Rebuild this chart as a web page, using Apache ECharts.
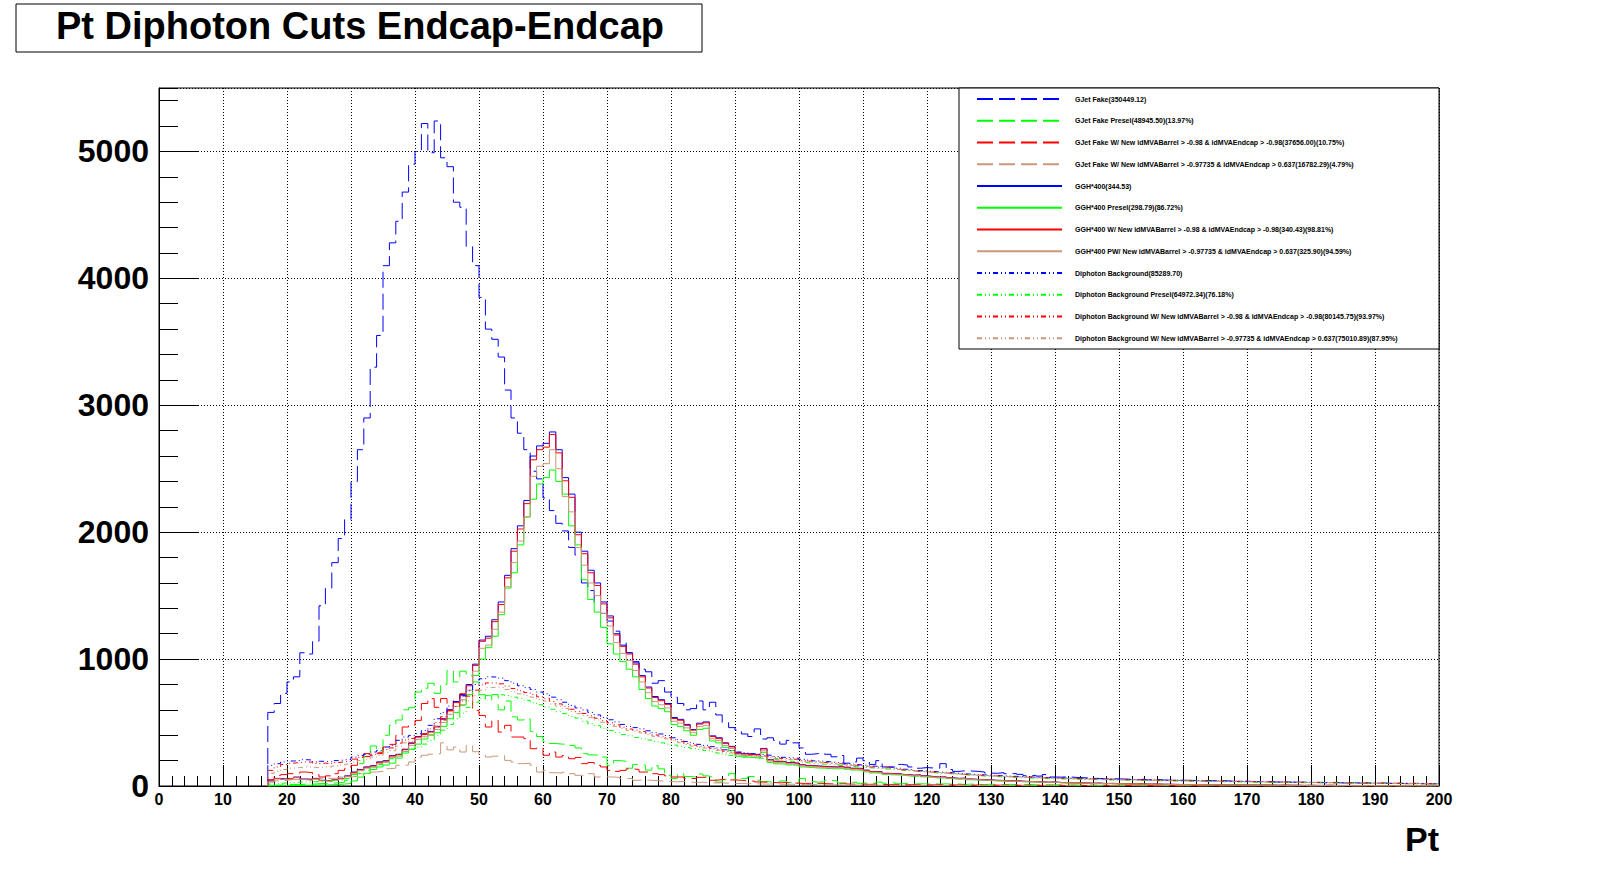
<!DOCTYPE html>
<html>
<head>
<meta charset="utf-8">
<title>Pt Diphoton Cuts Endcap-Endcap</title>
<script src="https://cdn.jsdelivr.net/npm/echarts@6/dist/echarts.min.js"></script>
<style>
html, body { margin: 0; padding: 0; background: #fff; }
#container { width: 1598px; height: 874px; }
</style>
</head>
<body>
<div id="container"></div>
<script>
// bins are 1 GeV wide, first bin starts at 17 GeV (17..199)
var binStart = 17;

var seriesNames = [
	'GJet Fake(350449.12)',
	'GJet Fake Presel(48945.50)(13.97%)',
	'GJet Fake W/ New idMVABarrel > -0.98 & idMVAEndcap > -0.98(37656.00)(10.75%)',
	'GJet Fake W/ New idMVABarrel > -0.97735 & idMVAEndcap > 0.637(16782.29)(4.79%)',
	'GGH*400(344.53)',
	'GGH*400 Presel(298.79)(86.72%)',
	'GGH*400 W/ New idMVABarrel > -0.98 & idMVAEndcap > -0.98(340.43)(98.81%)',
	'GGH*400 PW/ New idMVABarrel > -0.97735 & idMVAEndcap > 0.637(325.90)(94.59%)',
	'Diphoton Background(85289.70)',
	'Diphoton Background Presel(64972.34)(76.18%)',
	'Diphoton Background W/ New idMVABarrel > -0.98 & idMVAEndcap > -0.98(80145.75)(93.97%)',
	'Diphoton Background W/ New idMVABarrel > -0.97735 & idMVAEndcap > 0.637(75010.89)(87.95%)'
];

var gjetFake = [
	580, 650, 730,
	820, 860, 1050, 1040, 1140, 1420, 1560, 1760, 1950, 2100,
	2400, 2650, 2900, 3300, 3550, 4100, 4280, 4450, 4680, 4900,
	5000, 5220, 4990, 5240, 4950, 4880, 4600, 4560, 4250, 4100,
	3850, 3600, 3520, 3380, 3120, 2900, 2780, 2650, 2480, 2420,
	2270, 2170, 2070, 2010, 1880, 1820, 1600, 1540, 1450, 1360,
	1300, 1220, 1130, 1050, 980, 920, 900, 810, 830, 740,
	700, 650, 600, 610, 670, 600, 660, 560, 500, 460,
	440, 410, 390, 450, 370, 380, 360, 330, 360, 340,
	300, 250, 255, 260, 250, 230, 240, 180, 190, 220,
	200, 170, 200, 150, 150, 170, 165, 150, 140, 145,
	142, 140, 176, 130, 115, 120, 118, 115, 110, 102,
	100, 105, 97, 98, 92, 81, 84, 78, 90, 71,
	70, 72, 69, 66, 64, 67, 60, 55, 57, 56,
	55, 52, 50, 54, 48, 50, 47, 46, 44, 45,
	45, 43, 46, 40, 42, 38, 41, 37, 36, 38,
	35, 33, 36, 32, 30, 31, 29, 30, 28, 27,
	28, 26, 25, 27, 24, 23, 25, 22, 21, 22,
	20, 21, 19, 20, 18, 19, 17, 18, 16, 17
];

var gjetPresel = [
	5, 8, 10,
	12, 10, 15, 14, 18, 20, 22, 25, 30, 45,
	90, 176, 230, 315, 268, 400, 478, 520, 600, 617,
	740, 770, 810, 730, 800, 910, 820, 905, 870, 820,
	720, 680, 720, 600, 670, 545, 520, 530, 430, 390,
	350, 335, 330, 330, 320, 300, 255, 245, 240, 228,
	160, 200, 195, 140, 170, 165, 125, 160, 135, 85,
	60, 97, 75, 70, 95, 80, 72, 31, 50, 97,
	50, 60, 75, 45, 35, 30, 31, 40, 28, 25,
	60, 35, 30, 32, 45, 40, 25, 28, 30, 22,
	25, 20, 30, 22, 25, 18, 20, 15, 18, 16,
	18, 15, 17, 14, 16, 12, 15, 13, 11, 14,
	12, 10, 13, 11, 9, 12, 10, 8, 11, 9,
	10, 8, 9, 7, 8, 9, 6, 8, 7, 6,
	7, 6, 8, 5, 6, 7, 5, 6, 4, 5,
	5, 6, 4, 5, 3, 5, 4, 4, 3, 5,
	4, 3, 4, 3, 4, 2, 3, 4, 3, 2,
	3, 2, 3, 2, 3, 2, 2, 3, 2, 2,
	2, 1, 2, 2, 1, 2, 1, 2, 1, 1
];

var gjetCutA = [
	50, 84, 90,
	97, 100, 110, 105, 90, 71, 80, 97, 123, 137,
	163, 228, 255, 240, 255, 307, 328, 399, 465, 478,
	517, 650, 688, 620, 690, 600, 675, 727, 740, 596,
	556, 465, 517, 425, 478, 386, 386, 373, 294, 300,
	242, 268, 228, 240, 215, 225, 176, 185, 163, 150,
	123, 115, 123, 135, 130, 110, 110, 97, 90, 80,
	71, 71, 60, 58, 68, 70, 45, 50, 55, 48,
	45, 40, 38, 32, 30, 28, 25, 27, 24, 22,
	20, 21, 18, 19, 17, 16, 18, 15, 14, 15,
	13, 14, 12, 12, 11, 12, 10, 11, 9, 10,
	9, 10, 8, 9, 8, 8, 7, 8, 6, 7,
	7, 6, 6, 7, 5, 6, 5, 5, 4, 5,
	5, 4, 5, 4, 4, 3, 4, 4, 3, 3,
	3, 4, 3, 3, 2, 3, 3, 2, 3, 2,
	2, 3, 2, 2, 2, 1, 2, 2, 1, 2,
	1, 2, 1, 2, 1, 1, 2, 1, 1, 1,
	1, 1, 1, 1, 1, 1, 0, 1, 1, 0,
	1, 0, 1, 0, 1, 0, 0, 1, 0, 0
];

var gjetCutB = [
	31, 40, 45,
	50, 50, 55, 58, 58, 58, 60, 62, 71, 71,
	75, 97, 100, 110, 115, 137, 140, 163, 165, 189,
	228, 242, 250, 255, 340, 285, 307, 268, 320, 270,
	242, 228, 235, 240, 202, 189, 176, 180, 163, 110,
	123, 105, 102, 108, 97, 84, 86, 97, 71, 72,
	71, 68, 58, 60, 45, 47, 45, 42, 38, 35,
	33, 35, 30, 28, 30, 26, 24, 25, 22, 20,
	20, 18, 19, 16, 15, 16, 14, 13, 14, 12,
	11, 12, 10, 10, 9, 10, 8, 9, 8, 7,
	7, 8, 6, 7, 6, 6, 5, 6, 5, 5,
	5, 4, 5, 4, 4, 4, 3, 4, 3, 3,
	3, 3, 3, 2, 3, 2, 2, 3, 2, 2,
	2, 2, 2, 1, 2, 2, 1, 2, 1, 1,
	1, 2, 1, 1, 1, 1, 1, 1, 1, 1,
	1, 1, 0, 1, 1, 0, 1, 1, 0, 1,
	0, 1, 0, 0, 1, 0, 0, 1, 0, 0,
	0, 0, 1, 0, 0, 0, 0, 0, 1, 0,
	0, 0, 0, 0, 0, 0, 1, 0, 0, 0
];

var gghAll = [
	40, 60, 55,
	60, 70, 55, 50, 60, 45, 40, 50, 60, 80,
	110, 130, 150, 160, 190, 200, 240, 250, 290, 340,
	390, 410, 430, 470, 530, 600, 665, 720, 800, 960,
	1150, 1180, 1310, 1450, 1660, 1870, 2050, 2250, 2600, 2680,
	2700, 2790, 2650, 2430, 2300, 2000, 1850, 1700, 1600, 1450,
	1340, 1200, 1110, 1050, 970, 870, 780, 705, 680, 650,
	540, 525, 485, 445, 495, 505, 395, 380, 340, 312,
	262, 255, 250, 248, 296, 208, 195, 192, 185, 180,
	168, 162, 158, 155, 152, 150, 154, 148, 140, 138,
	125, 115, 112, 100, 98, 96, 90, 85, 88, 80,
	75, 70, 72, 65, 60, 62, 55, 52, 50, 48,
	45, 44, 40, 42, 38, 36, 35, 33, 30, 32,
	28, 27, 26, 25, 24, 22, 23, 20, 21, 19,
	18, 17, 18, 16, 15, 16, 14, 14, 13, 12,
	12, 11, 12, 10, 10, 9, 10, 9, 8, 8,
	8, 7, 8, 7, 6, 7, 6, 6, 5, 6,
	5, 5, 6, 5, 4, 5, 4, 4, 4, 4,
	4, 3, 4, 3, 3, 4, 3, 3, 3, 3
];

var gghPresel = [
	0, 2, 3,
	4, 5, 5, 6, 8, 8, 10, 12, 15, 20,
	40, 70, 100, 130, 150, 165, 180, 220, 260, 290,
	330, 370, 400, 420, 470, 530, 580, 640, 720, 870,
	1000, 1090, 1180, 1350, 1560, 1680, 1900, 2120, 2260, 2380,
	2430, 2490, 2400, 2300, 2050, 1900, 1625, 1470, 1370, 1250,
	1120, 1040, 980, 920, 860, 760, 690, 630, 610, 585,
	485, 470, 435, 400, 445, 455, 355, 340, 305, 280,
	235, 228, 224, 220, 265, 186, 175, 172, 166, 162,
	150, 146, 142, 140, 137, 135, 138, 132, 126, 124,
	112, 103, 100, 90, 88, 86, 81, 76, 79, 72,
	67, 63, 64, 58, 54, 56, 49, 47, 45, 43,
	40, 39, 36, 38, 34, 32, 31, 30, 27, 29,
	25, 24, 23, 22, 21, 20, 20, 18, 19, 17,
	16, 15, 16, 14, 13, 14, 12, 12, 11, 11,
	10, 10, 10, 9, 9, 8, 9, 8, 7, 7,
	7, 6, 7, 6, 5, 6, 5, 5, 4, 5,
	4, 4, 5, 4, 3, 4, 3, 3, 3, 3,
	3, 2, 3, 2, 2, 3, 2, 2, 2, 2
];

var gghCutA = [
	38, 58, 52,
	58, 68, 52, 48, 57, 43, 38, 48, 58, 77,
	107, 127, 147, 157, 187, 196, 236, 246, 286, 335,
	385, 405, 425, 465, 525, 592, 657, 712, 790, 950,
	1140, 1165, 1295, 1430, 1640, 1850, 2025, 2225, 2570, 2650,
	2670, 2770, 2625, 2405, 2275, 1980, 1830, 1680, 1580, 1435,
	1325, 1190, 1100, 1040, 960, 860, 772, 697, 672, 643,
	532, 518, 478, 440, 488, 498, 390, 375, 336, 308,
	258, 252, 247, 244, 292, 205, 192, 190, 182, 178,
	166, 160, 156, 153, 150, 148, 152, 146, 138, 136,
	123, 113, 110, 99, 97, 94, 89, 84, 87, 79,
	74, 69, 71, 64, 59, 61, 54, 51, 49, 47,
	44, 43, 39, 41, 37, 35, 34, 32, 29, 31,
	27, 26, 25, 24, 23, 21, 22, 19, 20, 18,
	17, 16, 17, 15, 14, 15, 13, 13, 12, 11,
	11, 10, 11, 9, 9, 8, 9, 8, 7, 7,
	7, 6, 7, 6, 5, 6, 5, 5, 4, 5,
	4, 4, 5, 4, 3, 4, 3, 3, 3, 3,
	3, 2, 3, 2, 2, 3, 2, 2, 2, 2
];

var gghCutB = [
	35, 55, 50,
	55, 64, 50, 45, 54, 41, 36, 46, 55, 73,
	100, 120, 140, 148, 178, 186, 225, 235, 272, 320,
	368, 388, 405, 445, 500, 565, 628, 680, 755, 905,
	1085, 1110, 1235, 1370, 1570, 1760, 1930, 2120, 2440, 2520,
	2540, 2650, 2500, 2280, 2160, 1880, 1740, 1600, 1500, 1360,
	1260, 1130, 1045, 990, 910, 820, 735, 665, 640, 615,
	510, 495, 458, 420, 468, 476, 372, 358, 320, 295,
	246, 240, 236, 233, 278, 196, 184, 181, 174, 170,
	158, 152, 149, 146, 143, 141, 145, 139, 132, 130,
	117, 108, 105, 94, 92, 90, 85, 80, 82, 75,
	70, 66, 68, 61, 56, 58, 52, 49, 47, 45,
	42, 41, 37, 39, 35, 34, 33, 31, 28, 30,
	26, 25, 24, 23, 22, 20, 21, 18, 19, 17,
	16, 15, 16, 14, 13, 14, 13, 12, 11, 11,
	10, 10, 10, 9, 9, 8, 9, 8, 7, 7,
	7, 6, 7, 6, 5, 6, 5, 5, 4, 5,
	4, 4, 5, 4, 3, 4, 3, 3, 3, 3,
	3, 2, 3, 2, 2, 3, 2, 2, 2, 2
];

var diphoAll = [
	163, 176, 190,
	197, 200, 207, 205, 189, 195, 190, 200, 205, 210,
	228, 242, 250, 268, 281, 307, 320, 360, 386, 399,
	412, 438, 478, 530, 580, 630, 665, 710, 750, 800,
	845, 860, 858, 850, 830, 810, 790, 775, 760, 740,
	727, 700, 680, 660, 635, 615, 600, 580, 560, 540,
	522, 505, 485, 470, 460, 450, 435, 420, 410, 398,
	380, 365, 350, 336, 328, 320, 310, 300, 285, 278,
	268, 262, 255, 250, 245, 240, 232, 226, 222, 218,
	210, 204, 198, 194, 190, 185, 180, 174, 170, 165,
	162, 156, 152, 150, 146, 140, 132, 128, 122, 118,
	115, 110, 108, 104, 100, 96, 93, 90, 88, 85,
	83, 80, 78, 76, 74, 72, 70, 68, 67, 65,
	64, 62, 62, 60, 59, 58, 57, 55, 54, 53,
	52, 51, 50, 50, 49, 48, 47, 46, 45, 45,
	44, 43, 42, 42, 41, 40, 39, 38, 37, 37,
	36, 35, 34, 34, 33, 32, 32, 31, 30, 30,
	29, 29, 28, 28, 27, 26, 26, 25, 25, 24,
	24, 23, 23, 22, 22, 21, 21, 20, 20, 19
];

var diphoPresel = [
	15, 20, 25,
	28, 30, 32, 33, 35, 38, 40, 45, 50, 58,
	75, 100, 125, 150, 170, 195, 215, 245, 270, 290,
	305, 330, 360, 400, 440, 485, 530, 575, 620, 660,
	690, 712, 720, 718, 712, 700, 690, 675, 655, 640,
	622, 605, 585, 570, 550, 535, 510, 490, 475, 455,
	438, 422, 405, 395, 383, 373, 362, 350, 340, 330,
	322, 312, 303, 295, 288, 280, 270, 260, 250, 242,
	236, 230, 225, 220, 215, 210, 205, 199, 194, 190,
	185, 180, 176, 172, 168, 164, 160, 156, 152, 148,
	144, 140, 136, 133, 130, 126, 122, 118, 114, 110,
	106, 102, 99, 96, 92, 88, 85, 82, 79, 76,
	74, 71, 69, 67, 65, 63, 61, 60, 58, 57,
	56, 54, 53, 52, 51, 50, 49, 48, 47, 46,
	45, 44, 43, 43, 42, 41, 40, 39, 39, 38,
	37, 36, 36, 35, 34, 34, 33, 32, 32, 31,
	30, 30, 29, 29, 28, 27, 27, 26, 26, 25,
	25, 24, 24, 23, 23, 22, 22, 21, 21, 20,
	20, 19, 19, 19, 18, 18, 17, 17, 17, 16
];

var diphoCutA = [
	123, 150, 170,
	180, 185, 190, 188, 176, 180, 176, 185, 190, 195,
	212, 225, 233, 250, 262, 287, 300, 338, 362, 375,
	388, 412, 450, 500, 546, 594, 627, 670, 708, 755,
	797, 812, 812, 805, 787, 768, 750, 736, 722, 703,
	691, 666, 647, 628, 605, 586, 572, 553, 534, 515,
	498, 482, 463, 449, 440, 430, 416, 402, 392, 381,
	364, 350, 335, 322, 314, 307, 297, 288, 273, 267,
	257, 251, 245, 240, 235, 230, 223, 217, 213, 209,
	202, 196, 190, 186, 182, 178, 173, 167, 163, 158,
	156, 150, 146, 144, 140, 134, 127, 123, 117, 113,
	110, 106, 104, 100, 96, 92, 89, 86, 84, 82,
	80, 77, 75, 73, 71, 69, 67, 65, 64, 62,
	61, 60, 59, 58, 57, 56, 55, 53, 52, 51,
	50, 49, 48, 48, 47, 46, 45, 44, 43, 43,
	42, 41, 40, 40, 39, 38, 37, 36, 36, 35,
	34, 34, 33, 32, 32, 31, 30, 30, 29, 29,
	28, 28, 27, 27, 26, 25, 25, 24, 24, 23,
	23, 22, 22, 21, 21, 20, 20, 19, 19, 18
];

var diphoCutB = [
	100, 115, 130,
	140, 145, 150, 150, 145, 150, 150, 158, 165, 172,
	188, 200, 210, 228, 240, 265, 278, 315, 340, 352,
	365, 388, 424, 472, 516, 560, 592, 633, 670, 713,
	755, 775, 780, 775, 760, 742, 726, 712, 700, 682,
	670, 646, 628, 610, 588, 570, 556, 538, 520, 502,
	485, 470, 452, 438, 429, 419, 406, 392, 382, 371,
	355, 341, 327, 314, 306, 299, 290, 281, 266, 260,
	250, 244, 238, 233, 228, 223, 217, 211, 207, 203,
	196, 190, 185, 181, 177, 173, 168, 162, 158, 154,
	151, 146, 142, 140, 136, 130, 123, 119, 114, 110,
	107, 103, 101, 97, 93, 89, 86, 84, 82, 79,
	77, 75, 73, 71, 69, 67, 65, 63, 62, 60,
	59, 58, 57, 56, 55, 54, 53, 51, 50, 49,
	48, 47, 46, 46, 45, 44, 43, 42, 42, 41,
	40, 39, 39, 38, 37, 36, 36, 35, 34, 34,
	33, 32, 32, 31, 30, 30, 29, 29, 28, 28,
	27, 27, 26, 26, 25, 24, 24, 23, 23, 22,
	22, 21, 21, 20, 20, 19, 19, 18, 18, 17
];

var xTicks = [0, 10, 20, 30, 40, 50, 60, 70, 80, 90, 100, 110, 120, 130, 140, 150, 160, 170, 180, 190, 200];
var yTicks = [0, 1000, 2000, 3000, 4000, 5000];

var seriesValues = [gjetFake, gjetPresel, gjetCutA, gjetCutB,
	gghAll, gghPresel, gghCutA, gghCutB,
	diphoAll, diphoPresel, diphoCutA, diphoCutB];

// colours / line styles in ROOT order: blue, green, red, tan
var colors = ['#0000ff', '#00ff00', '#ff0000', '#c9977a'];
var dashed = [16, 6];
var dashDot = [5, 3, 1, 3, 1, 3];

// histogram outline: start from 0 at the first bin edge, flat over every bin
function toSteps(vals) {
	var pts = [[binStart, 0]];
	for (var i = 0; i < vals.length; i++) {
		pts.push([binStart + i, vals[i]]);
	}
	pts.push([binStart + vals.length, vals[vals.length - 1]]);
	return pts;
}

var font = '"Liberation Sans", Arial, Helvetica, sans-serif';

var series = [];
for (var s = 0; s < seriesValues.length; s++) {
	var group = Math.floor(s / 4);
	var c = colors[s % 4];
	var lt = group === 0 ? dashed : (group === 1 ? 'solid' : dashDot);
	series.push({
		name: seriesNames[s],
		type: 'line',
		step: 'end',
		data: toSteps(seriesValues[s]),
		symbol: 'none',
		silent: true,
		animation: false,
		lineStyle: { color: c, width: 1, type: lt },
		itemStyle: { color: c }
	});
}

var dom = document.getElementById('container');
var myChart = echarts.init(dom, null, { renderer: 'svg' });
var option = {
	backgroundColor: '#fff',
	animation: false,
	title: {
		text: 'Pt Diphoton Cuts Endcap-Endcap',
		left: 56,
		top: 7,
		padding: 0,
		textStyle: { fontFamily: font, fontSize: 38, fontWeight: 'bold', color: '#000' }
	},
	graphic: [
		{
			type: 'rect', z: 0, silent: true,
			shape: { x: 16, y: 4, width: 686, height: 48 },
			style: { fill: 'none', stroke: '#000', lineWidth: 1 }
		},
		{
			type: 'rect', z: 50, silent: true,
			shape: { x: 959, y: 88, width: 480, height: 261 },
			style: { fill: '#fff', stroke: '#000', lineWidth: 1 }
		}
	],
	legend: {
		data: seriesNames,
		orient: 'vertical',
		left: 976,
		top: 94,
		padding: 0,
		z: 60,
		itemWidth: 85,
		itemHeight: 10,
		itemGap: 11.75,
		selectedMode: false,
		itemStyle: { opacity: 0 },
		textStyle: {
			fontFamily: font, fontSize: 7, fontWeight: 'bold', color: '#000',
			lineHeight: 10, padding: [0, 0, 0, 8]
		}
	},
	grid: {
		left: 159, right: 159, top: 88, bottom: 88,
		show: true, borderColor: '#000', borderWidth: 1, backgroundColor: 'transparent'
	},
	xAxis: {
		type: 'value',
		min: xTicks[0],
		max: xTicks[xTicks.length - 1],
		interval: 10,
		name: 'Pt',
		nameLocation: 'end',
		nameGap: 0,
		nameTextStyle: {
			fontFamily: font, fontSize: 34, fontWeight: 'bold', color: '#000',
			align: 'right', verticalAlign: 'top', padding: [36, 0, 0, 0]
		},
		axisLine: { show: true, lineStyle: { color: '#000', width: 1 } },
		axisTick: { show: true, inside: true, length: 21, lineStyle: { color: '#000' } },
		minorTick: { show: true, splitNumber: 5, length: 10, lineStyle: { color: '#000' } },
		axisLabel: { fontFamily: font, fontSize: 16, fontWeight: 'bold', color: '#000', margin: 5 },
		splitLine: { show: true, lineStyle: { color: '#000', width: 1, type: [1, 2] } }
	},
	yAxis: [
		{
			type: 'value',
			min: yTicks[0],
			max: 5500,
			interval: 1000,
			axisLine: { show: true, lineStyle: { color: '#000', width: 1 } },
			axisTick: { show: true, inside: true, length: 39, lineStyle: { color: '#000' } },
			axisLabel: {
				fontFamily: font, fontSize: 32, fontWeight: 'bold', color: '#000',
				margin: 10, showMaxLabel: false,
				formatter: function (v) { return yTicks.indexOf(v) >= 0 ? String(v) : ''; }
			},
			splitLine: { show: true, lineStyle: { color: '#000', width: 1, type: [1, 2] } }
		},
		{
			// minor ticks every 200
			type: 'value',
			min: 0,
			max: 5500,
			interval: 200,
			position: 'left',
			axisLine: { show: false },
			axisTick: { show: true, inside: true, length: 19, lineStyle: { color: '#000' } },
			axisLabel: { show: false },
			splitLine: { show: false }
		}
	],
	series: series
};
myChart.setOption(option, true);
</script>
</body>
</html>
